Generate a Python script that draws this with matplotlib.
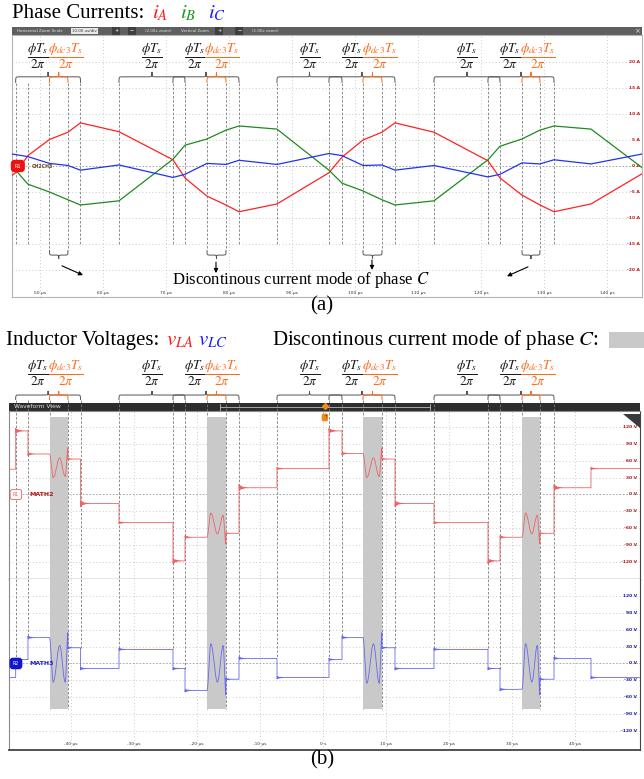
import numpy as np
import matplotlib
matplotlib.use("Agg")
import matplotlib.pyplot as plt
from matplotlib.path import Path
from matplotlib.patches import PathPatch, Rectangle, Polygon

plt.rcParams['font.family'] = ['Liberation Serif', 'DejaVu Serif']
plt.rcParams['mathtext.fontset'] = 'stix'

W, H = 644, 779

# switching instants in us (time base of panel b)
edges = [-48.78, -46.83, -43.41, -40.48, -38.49, -32.38, -23.81, -21.90,
         -18.41, -15.40, -13.33, -7.30, 0.95, 3.02, 6.35, 9.37,
         11.43, 17.62, 26.19, 28.10, 31.59, 34.44, 36.67, 42.54]
t_shift = 94.92          # panel (a) time = panel (b) time + shift
n_marked = 23            # edges that carry a dashed marker line

# panel (a): phase currents (A) at start, each switching instant, end
t_a_start, t_a_end = 45.56, 145.56
i_a = [-1.8, -1.3, 2.0, 5.1, 6.5, 8.3, 6.6, 1.2, -2.3, -5.8, -7.5, -8.8, -7.3,
       -1.3, 1.7, 5.0, 6.5, 8.3, 6.5, 1.0, -2.3, -5.6, -7.5, -8.8, -7.3, -1.5]
i_b = [0.0, -0.8, -3.5, -5.0, -6.5, -7.5, -6.7, 1.3, 4.0, 5.2, 6.9, 7.7, 7.1,
       -0.8, -3.3, -4.8, -6.5, -7.5, -6.7, 1.2, 3.8, 5.2, 6.9, 7.7, 7.1, -0.3]
i_c = [2.3, 2.2, 1.8, 0.5, 0.1, -0.8, 0.2, -2.2, -1.6, 0.5, 0.3, 1.1, 0.3,
       2.4, 2.0, 0.1, 0.2, -0.8, 0.1, -2.1, -1.6, 0.6, 0.4, 1.2, 0.4, 2.3]

# panel (b): inductor voltage levels between switching instants (V); None = DCM ringing
v_la = [45, 113, 72, None, 63, -16, -50, -118, -76, None, -69, 12, 46,
        113, 73, None, 63, -16, -50, -118, -76, None, -69, 12, 46]
v_lc = [-25, 7, 46, None, 28, -9, 25, -9, -48, None, -28, 9, -25,
        7, 46, None, 28, -9, 25, -9, -46, None, -28, 9, -25]
dcm_frac = [0.0, 0.2, 0.55, 0.85, 1.0]
v_la_dcm = [[72, 30, 65, 32, 83], [-76, -33, -70, -37, -88],
            [73, 30, 65, 32, 83], [-76, -33, -70, -37, -88]]
v_lc_dcm = [[46, -33, 32, -33, 55], [-48, 35, -33, 32, -56],
            [46, -35, 35, -35, 55], [-46, 35, -33, 32, -56]]

# braces (edge index pairs) and fraction labels (us, panel b time base)
black_braces = [(0, 4), (5, 7), (6, 10), (11, 13), (12, 16), (17, 19), (18, 22)]
orange_braces = [(2, 3), (8, 9), (14, 15), (20, 21)]
pair_black_x = [-45.3, -20.32, 4.60, 29.68]
pair_orange_x = [-40.85, -16.0, 9.05, 34.13]
single_x = [-27.14, -2.06, 22.86]

# DCM arrows in panel (a): (x0, y0) -> (x1, y1)
arrow_from = [(53.49, -19.2), (77.94, -18.5), (102.7, -18.1), (127.46, -19.4)]
arrow_to = [(56.83, -21.0), (77.94, -20.6), (102.7, -20.0), (124.13, -21.2)]

ticks_a_x = [50, 60, 70, 80, 90, 100, 110, 120, 130, 140]
ticks_a_y = [20, 15, 10, 5, 0, -5, -10, -15, -20]
ticks_b_x = [-40, -30, -20, -10, 0, 10, 20, 30, 40]
ticks_b_y = [120, 90, 60, 30, 0, -30, -60, -90, -120]

BLACK_FRAC = r'$\dfrac{\phi T_s}{2\pi}$'
ORANGE_FRAC = r'$\dfrac{\phi_{dc3}T_s}{2\pi}$'
ORANGE = '#ff6a1a'
FRAC_SIZE = 9.5
DASH = dict(ls=(0, (3, 2)), color='#7a7a7a', lw=0.6)
GRID = dict(ls=(0, (1, 3)), color='#b8b8b8', lw=0.6)
SANS = 'DejaVu Sans'


def px_axes(x0, y0, x1, y1):
    return [x0 / W, 1 - y1 / H, (x1 - x0) / W, (y1 - y0) / H]


def brace(ax, x0, x1, y_end, y_tip, color, lw=0.7):
    xm = (x0 + x1) / 2
    r = min(0.55, (x1 - x0) / 4)
    ym = y_end + 0.55 * (y_tip - y_end)
    verts = [(x0, y_end), (x0, ym), (x0, ym), (x0 + r, ym),
             (xm - r, ym), (xm, ym), (xm, ym), (xm, y_tip),
             (xm, ym), (xm, ym), (xm + r, ym),
             (x1 - r, ym), (x1, ym), (x1, ym), (x1, y_end)]
    codes = [Path.MOVETO, Path.CURVE4, Path.CURVE4, Path.CURVE4,
             Path.LINETO, Path.CURVE4, Path.CURVE4, Path.CURVE4,
             Path.CURVE4, Path.CURVE4, Path.CURVE4,
             Path.LINETO, Path.CURVE4, Path.CURVE4, Path.CURVE4]
    ax.add_patch(PathPatch(Path(verts, codes), fill=False, ec=color, lw=lw,
                           clip_on=False, zorder=6))


def build_wave(levels, dcm_vals, t0, t1):
    bounds = [t0] + edges + [t1]
    ts, vs = [], []
    prev = levels[0]
    k = 0
    for i, lev in enumerate(levels):
        a, b = bounds[i], bounds[i + 1]
        if lev is None:
            ext = dcm_vals[k]
            k += 1
            for j in range(len(ext) - 1):
                ta = a + dcm_frac[j] * (b - a)
                tb = a + dcm_frac[j + 1] * (b - a)
                s = np.linspace(0, 1, 25)
                ts.extend(ta + s * (tb - ta))
                vs.extend(ext[j] + (ext[j + 1] - ext[j]) * (1 - np.cos(np.pi * s)) / 2)
            prev = ext[-1]
        else:
            tt = np.linspace(a, b, max(int((b - a) * 250), 2))
            # switching ringing after each step
            ring = 0.07 * (lev - prev) * np.exp(-(tt - a) / 0.45) * np.cos(2 * np.pi * 5 * (tt - a))
            ts.extend(tt)
            vs.extend(lev + ring)
            prev = lev
    return np.array(ts), np.array(vs)


fig = plt.figure(figsize=(6.44, 7.79), dpi=100)
ax_a = fig.add_axes(px_axes(12, 35, 642, 297))
ax_u = fig.add_axes(px_axes(9, 411, 640, 579))
ax_l = fig.add_axes(px_axes(9, 579, 640, 750))

ax_a.set_xlim(t_a_start, t_a_end)
ax_a.set_ylim(-25.2, 25.2)
ax_u.set_xlim(-49.84, 50.32)
ax_u.set_ylim(-150.2, 148.4)
ax_l.set_xlim(-49.84, 50.32)
ax_l.set_ylim(-153.8, 150.2)
for ax in (ax_a, ax_u, ax_l):
    ax.set_xticks([])
    ax.set_yticks([])
for s in ax_a.spines.values():
    s.set_color('#b4b4b4')
    s.set_linewidth(0.8)
for ax in (ax_u, ax_l):
    for s in ax.spines.values():
        s.set_color('#8a8a8a')
        s.set_linewidth(0.8)
ax_u.spines['bottom'].set_color('#777777')
ax_u.spines['bottom'].set_linewidth(1.0)
ax_l.spines['top'].set_visible(False)
ax_l.spines['bottom'].set_color('#444444')
ax_l.spines['bottom'].set_linewidth(1.3)
ax_l.spines['right'].set_color('#444444')
ax_u.spines['right'].set_color('#444444')

# ---------------- panel (a) ----------------
for v in ticks_a_x:
    ax_a.axvline(v, zorder=1, **GRID)
for v in ticks_a_y:
    if v != 0:
        ax_a.axhline(v, zorder=1, **GRID)
ax_a.axhline(0, ls=(0, (2, 2)), color='#9a9a9a', lw=0.6, zorder=1)

dcm_edges = {e for pair in orange_braces for e in pair}
for i in range(n_marked):
    x = edges[i] + t_shift
    y_end = -16.2 if i in dcm_edges else -15.0
    ax_a.plot([x, x], [16.0, y_end], zorder=2, **DASH)

t_cur = np.r_[t_a_start, np.array(edges) + t_shift, t_a_end]
ax_a.plot(t_cur, i_a, color='#ff2222', lw=0.9, zorder=4)
ax_a.plot(t_cur, i_b, color='#1f8a1f', lw=0.9, zorder=4)
ax_a.plot(t_cur, i_c, color='#2233ee', lw=0.9, zorder=4)

for a, b in black_braces:
    brace(ax_a, edges[a] + t_shift, edges[b] + t_shift, 16.0, 18.1, '#555555')
for a, b in orange_braces:
    brace(ax_a, edges[a] + t_shift, edges[b] + t_shift, 16.0, 18.1, ORANGE)
    brace(ax_a, edges[a] + t_shift, edges[b] + t_shift, -16.2, -17.9, '#555555')
for x in pair_black_x + single_x:
    ax_a.text(x + t_shift, 21.0, BLACK_FRAC, ha='center', va='center',
              fontsize=FRAC_SIZE, color='#1a1a1a', zorder=7)
for x in pair_orange_x:
    ax_a.text(x + t_shift, 21.0, ORANGE_FRAC, ha='center', va='center',
              fontsize=FRAC_SIZE, color=ORANGE, zorder=7)
for p0, p1 in zip(arrow_from, arrow_to):
    ax_a.annotate('', xy=p1, xytext=p0,
                  arrowprops=dict(arrowstyle='-|>', color='black', lw=0.8,
                                  mutation_scale=6, shrinkA=0, shrinkB=0))

for v in ticks_a_x:
    ax_a.text(v, -24.4, f'{v} µs', ha='center', va='center', fontsize=3.2,
              color='#333333', family=SANS)
for v in ticks_a_y:
    ax_a.text(0.997, v, f'{v} A', transform=ax_a.get_yaxis_transform(),
              ha='right', va='center', fontsize=3.2, color='#c01818',
              family=SANS, fontweight='bold')

ax_a.text(0.004, 0, 'R1', transform=ax_a.get_yaxis_transform(), fontsize=3.6,
          color='white', ha='left', va='center', family=SANS, zorder=8,
          bbox=dict(boxstyle='round,pad=0.6', fc='#ee1111', ec='#ee1111'))
ax_a.text(0.031, 0, 'CH2CH3', transform=ax_a.get_yaxis_transform(), fontsize=3.4,
          color='#6a4a20', ha='left', va='center', family=SANS, fontweight='bold')

# header bar of panel (a)
ax_a.add_patch(Rectangle((0, 1), 1, 8 / 262, transform=ax_a.transAxes,
                         clip_on=False, fc='#5f5f5f', ec='none'))
hy = 1 - 31 / H
hdr = dict(fontsize=2.9, family=SANS, va='center', color='#e6e6e6')
fig.text(17 / W, hy, 'Horizontal Zoom Scale', **hdr)
fig.text(72 / W, hy, '10.00 us/div', fontsize=2.9, family=SANS, va='center',
         color='#333333', bbox=dict(boxstyle='square,pad=0.3', fc='#e8e8e8', ec='none'))
for x, s in [(114, '+'), (130, '−'), (217, '+'), (237, '−')]:
    fig.text(x / W, hy, s, fontsize=3.6, family=SANS, va='center', color='white',
             bbox=dict(boxstyle='square,pad=0.35', fc='#3f3f3f', ec='none'))
fig.text(145 / W, hy, '(2.00x zoom)', **hdr)
fig.text(181 / W, hy, 'Vertical Zoom', **hdr)
fig.text(252 / W, hy, '(1.00x zoom)', **hdr)
fig.text(637 / W, hy, '×', fontsize=5, family=SANS, va='center', ha='center', color='#dddddd')

fig.text(172 / W, 1 - 284 / H, r'Discontinous current mode of phase $C$',
         fontsize=12, va='baseline')

# ---------------- panel (b) ----------------
for ax in (ax_u, ax_l):
    for v in ticks_b_x:
        ax.axvline(v, zorder=1, **GRID)
    for v in ticks_b_y:
        if v != 0:
            ax.axhline(v, zorder=1, **GRID)
    ax.axhline(0, ls=(0, (2, 2)), color='#9a9a9a', lw=0.6, zorder=1)

for a, b in orange_braces:
    ax_u.fill_between([edges[a], edges[b]], -160, 137.8, color='#c9c9c9', lw=0, zorder=3)
    ax_l.fill_between([edges[a], edges[b]], -80.9, 160, color='#c9c9c9', lw=0, zorder=3)

for i in range(n_marked):
    x = edges[i]
    ax_u.plot([x, x], [168, -150.2], clip_on=False, zorder=2, **DASH)
    before, after = v_lc[i], v_lc[i + 1]
    y_end = max(before, after) if (before is not None and after is not None) else -80.9
    ax_l.plot([x, x], [150.2, y_end], zorder=2, **DASH)

t_la, w_la = build_wave(v_la, v_la_dcm, -49.84, 50.32)
t_lc, w_lc = build_wave(v_lc, v_lc_dcm, -49.84, 50.32)
ax_u.plot(t_la, w_la, color='#ec6565', lw=0.6, zorder=4)
ax_l.plot(t_lc, w_lc, color='#6868ee', lw=0.6, zorder=4)

for a, b in black_braces:
    brace(ax_u, edges[a], edges[b], 168, 184, '#555555')
for a, b in orange_braces:
    brace(ax_u, edges[a], edges[b], 168, 184, ORANGE)
for x in pair_black_x + single_x:
    ax_u.text(x, 216, BLACK_FRAC, ha='center', va='center', fontsize=FRAC_SIZE,
              color='#1a1a1a', clip_on=False)
for x in pair_orange_x:
    ax_u.text(x, 216, ORANGE_FRAC, ha='center', va='center', fontsize=FRAC_SIZE,
              color=ORANGE, clip_on=False)

for v in ticks_b_x:
    ax_l.text(v, -143, '0 s' if v == 0 else f'{v} µs', ha='center', va='center',
              fontsize=3.2, color='#333333', family=SANS)
for ax, col in ((ax_u, '#b01818'), (ax_l, '#1818b0')):
    for v in ticks_b_y:
        ax.text(0.995, v, f'{v} V', transform=ax.get_yaxis_transform(),
                ha='right', va='center', fontsize=3.2, color=col,
                family=SANS, fontweight='bold', zorder=8)

ax_u.text(0.006, 0, 'R1', transform=ax_u.get_yaxis_transform(), fontsize=3.4,
          color='#e06060', ha='left', va='center', family=SANS, zorder=8,
          bbox=dict(boxstyle='round,pad=0.55', fc='white', ec='#e06060', lw=0.6))
ax_u.text(0.032, 0, 'MATH2', transform=ax_u.get_yaxis_transform(), fontsize=4.5,
          color='#b01515', ha='left', va='center', family=SANS, fontweight='bold', zorder=8)
ax_l.text(0.006, 0, 'R2', transform=ax_l.get_yaxis_transform(), fontsize=3.4,
          color='white', ha='left', va='center', family=SANS, zorder=8,
          bbox=dict(boxstyle='round,pad=0.55', fc='#1515d0', ec='#1515d0'))
ax_l.text(0.032, 0, 'MATH3', transform=ax_l.get_yaxis_transform(), fontsize=4.5,
          color='#2020c0', ha='left', va='center', family=SANS, fontweight='bold', zorder=8)

# header bar of panel (b)
ax_u.add_patch(Rectangle((0, 1), 1, 8 / 168, transform=ax_u.transAxes,
                         clip_on=False, fc='#2d2d2d', ec='none', zorder=1))
fig.text(14 / W, 1 - 407 / H, 'Waveform View', fontsize=4.3, family=SANS,
         va='center', color='#e0e0e0')
ax_u.plot([-16.35, 16.98], [155.6, 155.6], color='#bbbbbb', lw=0.6, clip_on=False, zorder=5)
for x in (-16.35, 16.98):
    ax_u.plot([x, x], [151, 160], color='#bbbbbb', lw=0.6, clip_on=False, zorder=5)
ax_u.plot([0.3], [158], marker='D', ms=3, color='#f08a1a', clip_on=False, zorder=7)
ax_u.text(0.3, 137, 'T', ha='center', va='center', fontsize=3, color='#222222',
          family=SANS, zorder=7,
          bbox=dict(boxstyle='round,pad=0.3', fc='#f08a1a', ec='#f08a1a'))
ax_u.add_patch(Polygon([(0.973, 0.985), (1.0, 0.985), (1.0, 0.90)],
                       transform=ax_u.transAxes, fc='#3a3a3a', ec='none', zorder=7))

# ---------------- titles ----------------
fig.text(12 / W, 1 - 18 / H, 'Phase Currents:', fontsize=15, va='baseline')
fig.text(152 / W, 1 - 18 / H, r'$i_A$', fontsize=15, va='baseline', color='#ff1a1a')
fig.text(180 / W, 1 - 18 / H, r'$i_B$', fontsize=15, va='baseline', color='#1a9a1a')
fig.text(208 / W, 1 - 18 / H, r'$i_C$', fontsize=15, va='baseline', color='#1a1aff')
fig.text(0.5, 1 - 306 / H, '(a)', fontsize=15, ha='center', va='center')

fig.text(6 / W, 1 - 345 / H, 'Inductor Voltages:', fontsize=15, va='baseline')
fig.text(166 / W, 1 - 345 / H, r'$v_{LA}$', fontsize=15, va='baseline', color='#ff1a1a')
fig.text(198 / W, 1 - 345 / H, r'$v_{LC}$', fontsize=15, va='baseline', color='#1a1aff')
fig.text(272 / W, 1 - 345 / H, r'Discontinous current mode of phase $C$:',
         fontsize=15, va='baseline')
fig.patches.append(Rectangle((609 / W, 1 - 348 / H), 35 / W, 16 / H,
                             transform=fig.transFigure, fc='#c9c9c9', ec='none'))
fig.text(0.5, 1 - 760 / H, '(b)', fontsize=15, ha='center', va='center')

fig.savefig('out.png', dpi=100)
